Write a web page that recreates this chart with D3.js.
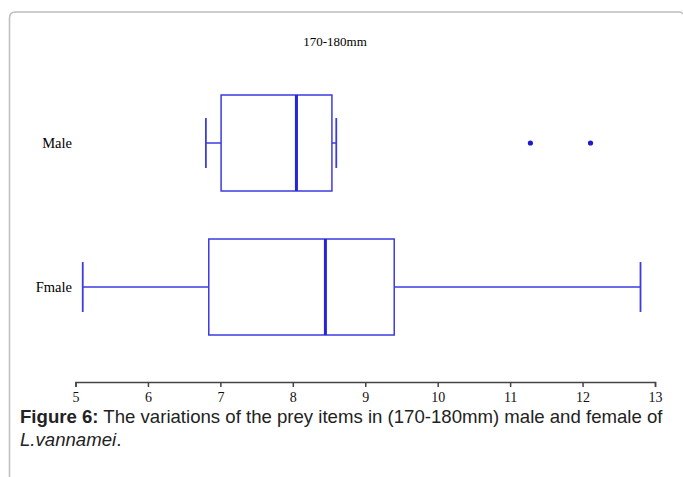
<!DOCTYPE html>
<html lang="en">
<head>
    <meta charset="utf-8">
    <title>Boxplot 170-180mm</title>
    <style>
        body {
            margin: 0;
            background: #fff;
        }

        svg {
            display: block;
        }

        .caption {
            font-family: "Liberation Sans", Arial, sans-serif;
            font-size: 18.6px;
            fill: #222;
        }
    </style>
</head>
<body>

<svg width="683" height="477"></svg>

<script src="https://d3js.org/d3.v7.min.js"></script>
<script>

    // groups, top to bottom
    const groups = ["Male", "Fmale"];
    // five-number summaries
    const lowWhisker = [6.80, 5.10];
    const q1 = [7.01, 6.84];
    const medians = [8.05, 8.45];
    const q3 = [8.54, 9.40];
    const highWhisker = [8.60, 12.80];
    const outliers = [[11.28, 12.11], []];
    const xTicks = [5, 6, 7, 8, 9, 10, 11, 12, 13];

    const svg = d3.select("svg");
    const blue = "#3b3be0";
    const serif = "'Liberation Serif', 'Times New Roman', serif";

    // frame: top and left border with rounded corner
    svg.append("path")
        .attr("d", "M9.5,477 L9.5,18 Q9.5,12 15.5,12 L680,12 Q682,12 682.5,14")
        .attr("fill", "none")
        .attr("stroke", "#bdbdbd")
        .attr("stroke-width", 1.5);

    const x = d3.scaleLinear()
        .domain([5, 13])
        .range([75.5, 655]);

    // step 144px, box height 96px
    const y = d3.scaleBand()
        .domain(groups)
        .range([23, 407])
        .paddingInner(1 / 3)
        .paddingOuter(0.5);

    // title
    svg.append("text")
        .attr("x", 335)
        .attr("y", 46)
        .attr("text-anchor", "middle")
        .style("font-family", serif)
        .style("font-size", "13px")
        .text("170-180mm");

    // x axis
    const axis = svg.append("g")
        .attr("transform", "translate(0,382)")
        .call(d3.axisBottom(x).tickValues(xTicks).tickSize(5).tickSizeOuter(5));
    axis.select(".domain").attr("stroke", "#444").attr("stroke-width", 1.5);
    axis.selectAll(".tick line").attr("stroke", "#444").attr("stroke-width", 1.5);
    axis.selectAll(".tick text")
        .attr("y", 10)
        .attr("fill", "#111")
        .style("font-family", serif)
        .style("font-size", "14px");

    // group labels
    svg.selectAll(".glabel")
        .data(groups)
        .enter()
        .append("text")
        .attr("class", "glabel")
        .attr("x", 72)
        .attr("y", d => y(d) + y.bandwidth() / 2)
        .attr("dy", "0.35em")
        .attr("text-anchor", "end")
        .style("font-family", serif)
        .style("font-size", "14.5px")
        .text(d => d);

    const boxes = svg.selectAll(".box")
        .data(groups)
        .enter()
        .append("g")
        .attr("class", "box");

    const bw = y.bandwidth();

    // whisker lines
    boxes.append("line")
        .attr("x1", (d, i) => x(lowWhisker[i]))
        .attr("x2", (d, i) => x(q1[i]))
        .attr("y1", d => y(d) + bw / 2)
        .attr("y2", d => y(d) + bw / 2)
        .attr("stroke", blue).attr("stroke-width", 1.5);
    boxes.append("line")
        .attr("x1", (d, i) => x(q3[i]))
        .attr("x2", (d, i) => x(highWhisker[i]))
        .attr("y1", d => y(d) + bw / 2)
        .attr("y2", d => y(d) + bw / 2)
        .attr("stroke", blue).attr("stroke-width", 1.5);

    // whisker caps
    [lowWhisker, highWhisker].forEach(arr => {
        boxes.append("line")
            .attr("x1", (d, i) => x(arr[i]))
            .attr("x2", (d, i) => x(arr[i]))
            .attr("y1", d => y(d) + bw * 0.24)
            .attr("y2", d => y(d) + bw * 0.76)
            .attr("stroke", blue).attr("stroke-width", 1.8);
    });

    // boxes
    boxes.append("rect")
        .attr("x", (d, i) => x(q1[i]))
        .attr("width", (d, i) => x(q3[i]) - x(q1[i]))
        .attr("y", d => y(d))
        .attr("height", bw)
        .attr("fill", "none")
        .attr("stroke", blue)
        .attr("stroke-width", 1.5);

    // medians
    boxes.append("line")
        .attr("x1", (d, i) => x(medians[i]))
        .attr("x2", (d, i) => x(medians[i]))
        .attr("y1", d => y(d))
        .attr("y2", d => y(d) + bw)
        .attr("stroke", "#2424d8").attr("stroke-width", 3);

    // outliers
    boxes.each(function (d, i) {
        d3.select(this).selectAll("circle")
            .data(outliers[i])
            .enter()
            .append("circle")
            .attr("cx", v => x(v))
            .attr("cy", y(d) + bw / 2)
            .attr("r", 2.6)
            .attr("fill", "#1c1cc8");
    });

    // caption
    const cap = svg.append("text")
        .attr("class", "caption")
        .attr("x", 20)
        .attr("y", 423);
    cap.append("tspan").attr("font-weight", "bold").text("Figure 6:");
    cap.append("tspan").text(" The variations of the prey items in (170-180mm) male and female of");
    const cap2 = svg.append("text")
        .attr("class", "caption")
        .attr("x", 20)
        .attr("y", 446);
    cap2.append("tspan").style("font-style", "italic").text("L.vannamei");
    cap2.append("tspan").text(".");

</script>

</body>
</html>
